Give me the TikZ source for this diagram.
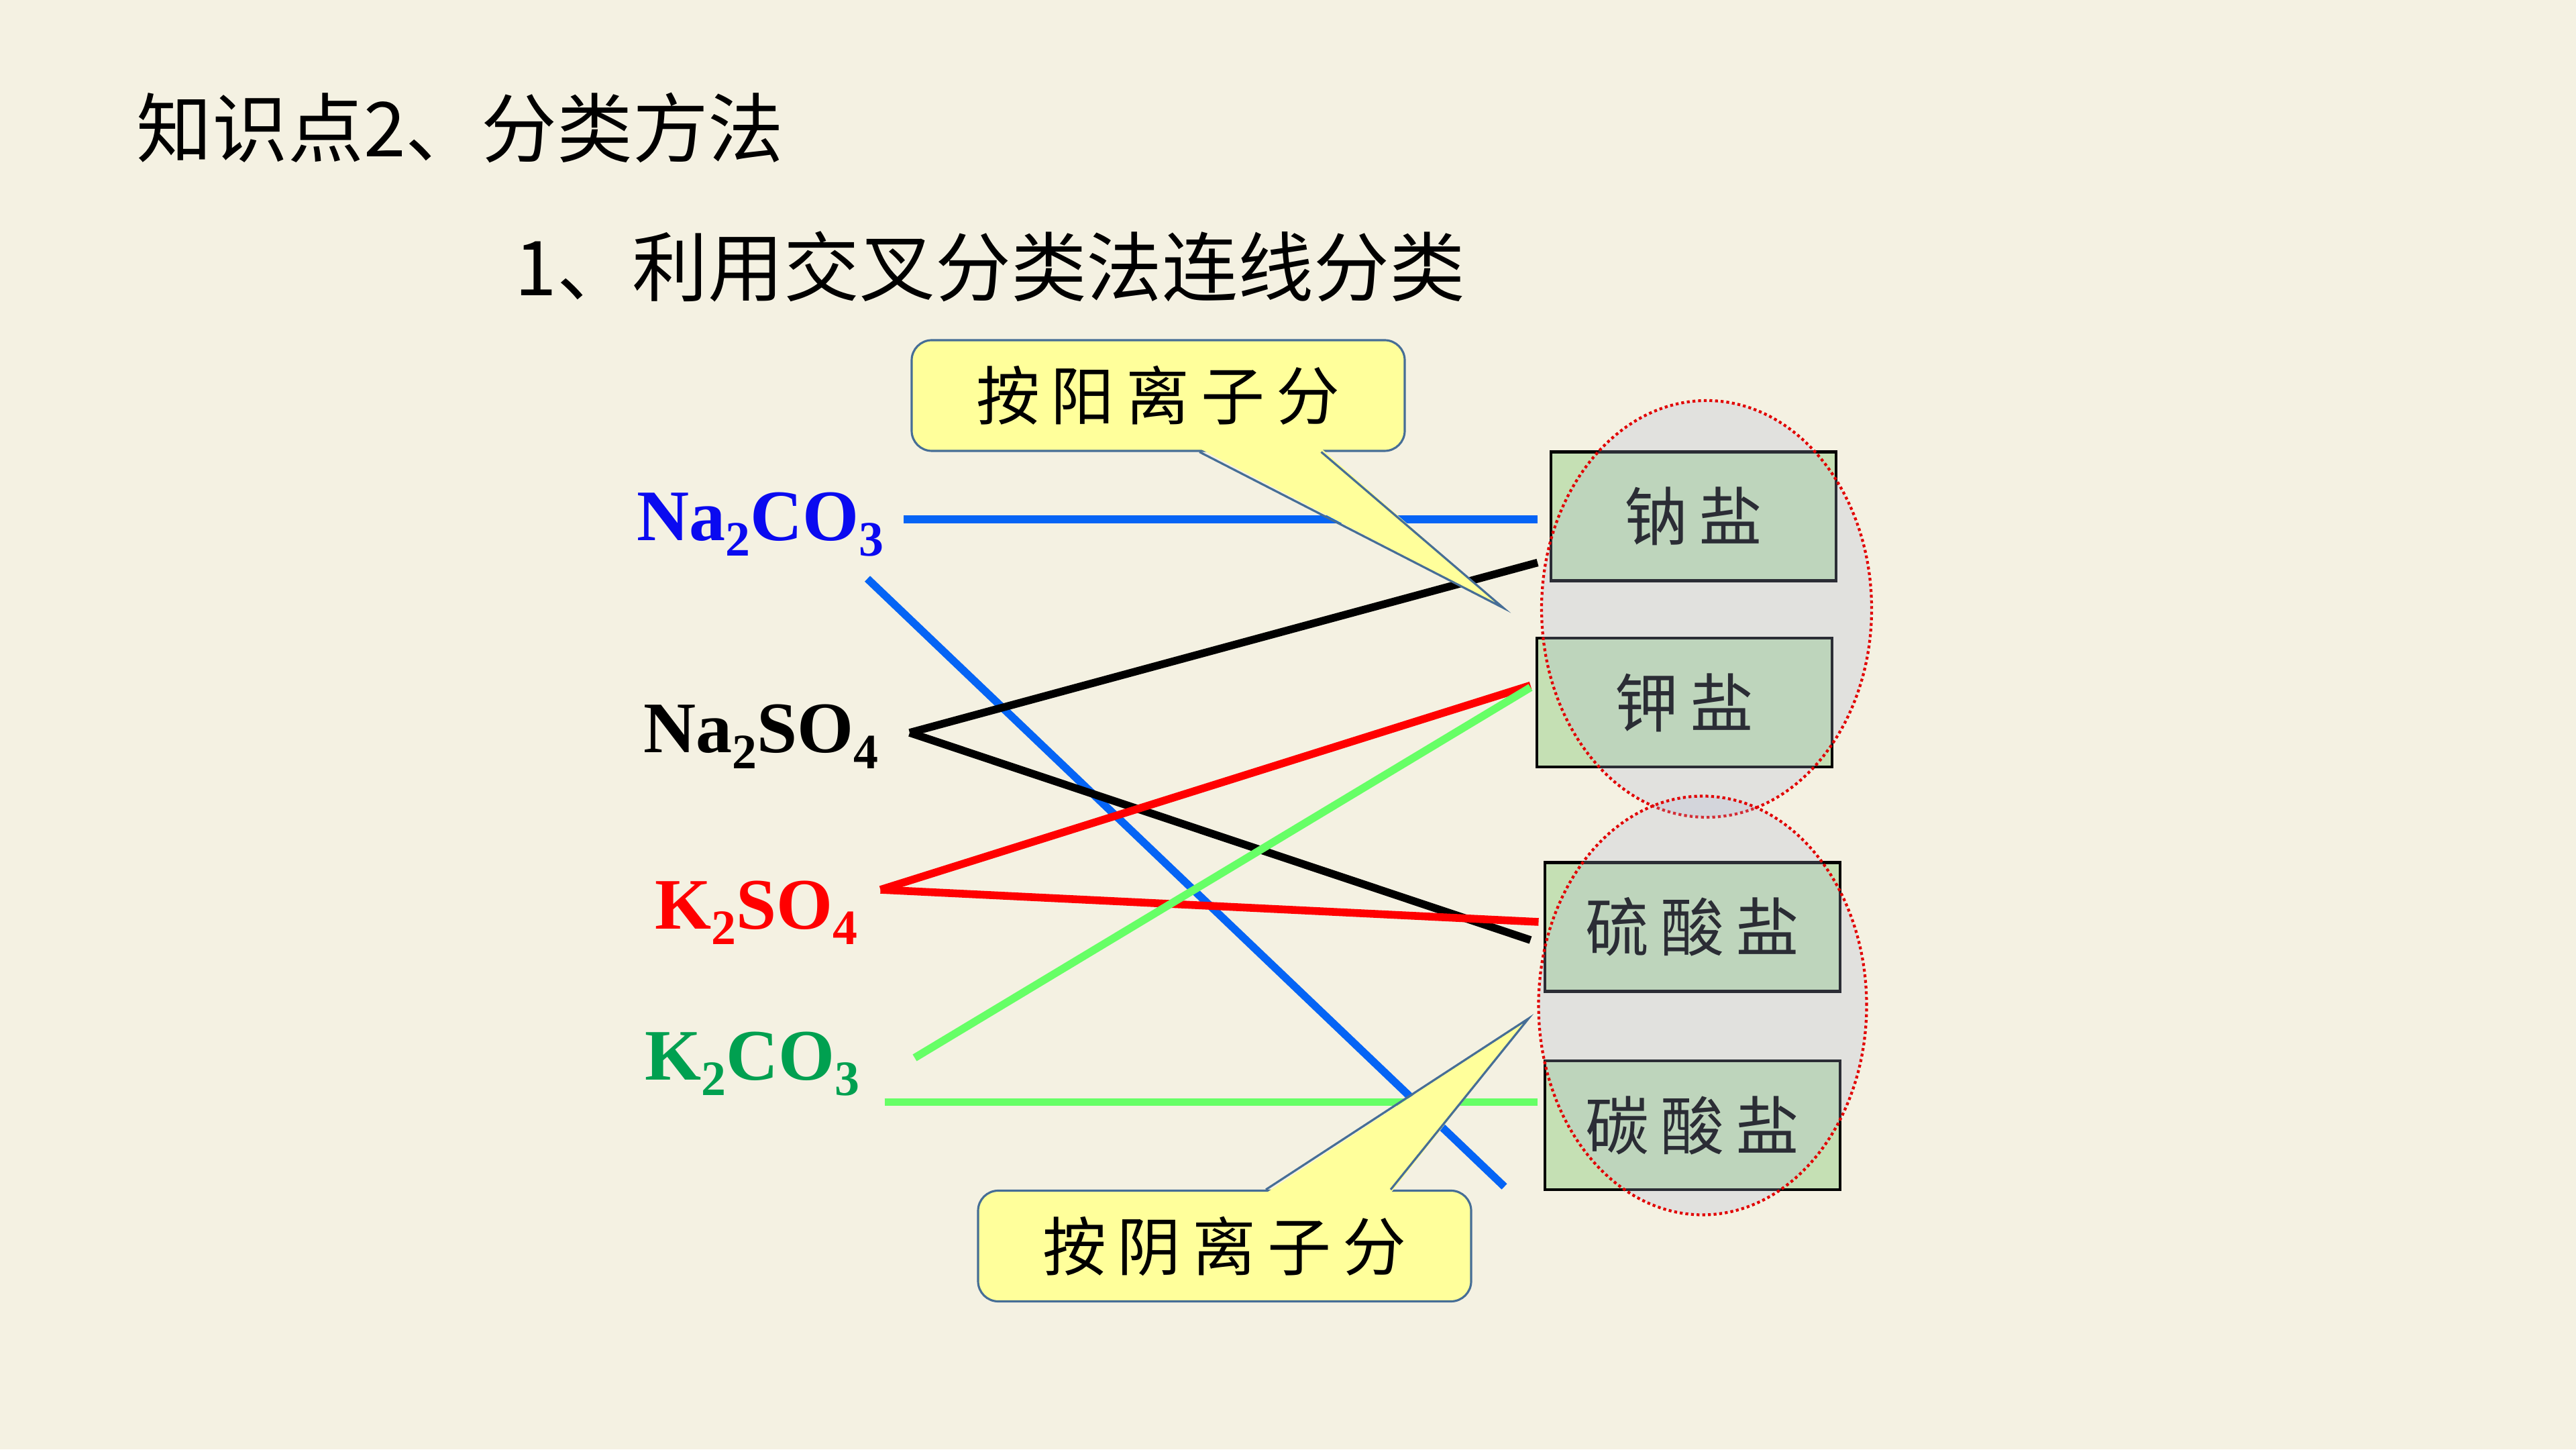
\documentclass[tikz,border=0pt]{standalone}
\usepackage{fontspec}
\setmainfont{Liberation Serif}
\newfontfamily\cjk{Noto Sans CJK SC}
\newfontfamily\cjkspaced[LetterSpace=18]{Noto Sans CJK SC}

\definecolor{paper}{RGB}{244,241,226}
\definecolor{lineblue}{RGB}{5,100,245}
\definecolor{textblue}{RGB}{10,10,240}
\definecolor{linered}{RGB}{255,0,0}
\definecolor{linegreen}{RGB}{102,255,102}
\definecolor{textgreen}{RGB}{0,160,80}
\definecolor{bubblefill}{RGB}{255,255,155}
\definecolor{bubbleedge}{RGB}{70,110,150}
\definecolor{saltgreen}{RGB}{197,224,180}
\definecolor{haze}{RGB}{172,181,214}
\definecolor{dotred}{RGB}{225,0,0}

\newcommand{\chemsub}[1]{\raisebox{-4.4pt}{\fontsize{14}{14}\selectfont #1}}

\begin{document}
\begin{tikzpicture}[
   x=1cm,y=1cm,
   heading/.style={anchor=west,inner sep=0pt,font=\cjk\fontsize{21.4}{24}\selectfont},
   formula/.style={anchor=base west,inner sep=0pt,font=\fontsize{20.5}{24}\selectfont\bfseries},
   bond/.style={line width=2.2pt},
   salt/.style={draw=black,line width=0.8pt,fill=saltgreen,minimum height=1.28cm,inner sep=0pt,
     font=\cjkspaced\fontsize{18}{20}\selectfont},
   bubble/.style={draw=bubbleedge,fill=bubblefill,line width=0.6pt,rounded corners=0.2cm,
     minimum width=4.9cm,minimum height=1.1cm,inner sep=0pt,font=\cjkspaced\fontsize{18}{20}\selectfont},
   cluster/.style={fill=haze,fill opacity=0.25,draw=dotred,line width=0.8pt,dash pattern=on 0.8pt off 0.8pt}
 ]
  \useasboundingbox (0,0) rectangle (25.6,14.4);
  \fill[paper] (0,0) rectangle (25.6,14.4);

  \node[heading] (topic) at (1.35,13.13) {知识点2、分类方法};
  \node[heading] (task) at (5.11,11.75) {1、利用交叉分类法连线分类};

  \node[formula,text=textblue] (nco) at (6.32,9.03) {Na\chemsub{2}CO\chemsub{3}};
  \node[formula,text=black] (nso) at (6.39,6.92) {Na\chemsub{2}SO\chemsub{4}};
  \node[formula,text=linered] (kso) at (6.50,5.17) {K\chemsub{2}SO\chemsub{4}};
  \node[formula,text=textgreen] (kco) at (6.40,3.67) {K\chemsub{2}CO\chemsub{3}};

  \coordinate (nco-h) at (8.98,9.24);
  \coordinate (nco-d) at (8.62,8.65);
  \coordinate (nso-v) at (9.04,7.12);
  \coordinate (kso-v) at (8.75,5.56);
  \coordinate (kco-d) at (9.09,3.89);
  \coordinate (kco-h) at (8.79,3.45);
  \coordinate (sodium-a) at (15.28,9.24);
  \coordinate (sodium-b) at (15.28,8.81);
  \coordinate (potassium-a) at (15.21,7.59);
  \coordinate (potassium-b) at (15.21,7.57);
  \coordinate (sulfate-a) at (15.29,5.24);
  \coordinate (sulfate-b) at (15.21,5.06);
  \coordinate (carbonate-a) at (15.28,3.45);
  \coordinate (carbonate-b) at (14.95,2.61);

  \foreach \a/\b/\c in {nco-h/sodium-a/lineblue,nco-d/carbonate-b/lineblue,
      nso-v/sodium-b/black,nso-v/sulfate-b/black,
      kso-v/potassium-a/linered,kso-v/sulfate-a/linered,
      kco-d/potassium-b/linegreen,kco-h/carbonate-a/linegreen}
    \draw[bond,\c] (\a) -- (\b);

  \node[bubble] (cation) at (11.51,10.47) {按阳离子分};
  \coordinate (cationtip) at (14.94,8.36);
  \fill[bubblefill] ([xshift=0.41cm,yshift=1pt]cation.south) -- (cationtip) -- ([xshift=1.62cm,yshift=1pt]cation.south) -- cycle;
  \draw[bubbleedge,line width=0.6pt] ([xshift=0.41cm]cation.south) -- (cationtip) -- ([xshift=1.62cm]cation.south);

  \node[bubble] (anion) at (12.17,2.02) {按阴离子分};
  \coordinate (aniontip) at (15.19,4.28);
  \fill[bubblefill] ([xshift=0.41cm,yshift=-1pt]anion.north) -- (aniontip) -- ([xshift=1.65cm,yshift=-1pt]anion.north) -- cycle;
  \draw[bubbleedge,line width=0.6pt] ([xshift=0.41cm]anion.north) -- (aniontip) -- ([xshift=1.65cm]anion.north);

  \foreach \nm/\x/\y/\w/\txt in {sodium/16.83/9.27/2.83/钠盐,potassium/16.74/7.42/2.93/钾盐,
      sulfate/16.82/5.19/2.93/硫酸盐,carbonate/16.82/3.22/2.93/碳酸盐}
    \node[salt,minimum width=\w cm] (\nm) at (\x,\y) {\txt};

  \draw[cluster] (16.96,8.35) ellipse [x radius=1.64,y radius=2.07];
  \draw[cluster] (16.92,4.41) ellipse [x radius=1.63,y radius=2.08];
 \end{tikzpicture}
\end{document}
